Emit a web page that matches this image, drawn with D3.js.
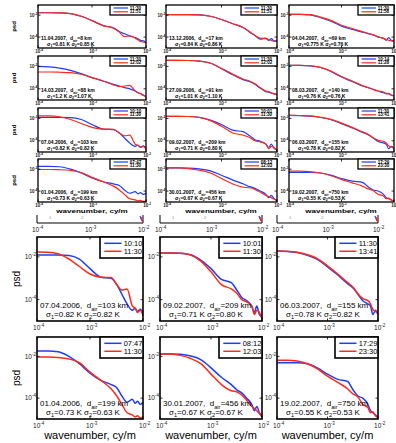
<!DOCTYPE html>
<html>
<head>
<meta charset="utf-8">
<script src="https://cdn.jsdelivr.net/npm/d3@7"></script>
<style>
  body { margin: 0; background: #fff; }
  text { font-family: "Liberation Sans", Arial, sans-serif; }
</style>
</head>
<body>
<svg id="chart" width="396" height="443"></svg>
<script>
// wavenumber grid, cy/m
const wavenumber = [1e-4, 1.6e-4, 2.5e-4, 4e-4, 6.3e-4, 1e-3, 1.6e-3, 2.5e-3, 3.2e-3, 4e-3, 5e-3, 6.3e-3, 7.1e-3, 7.9e-3, 8.9e-3, 1e-2];
const xTicks = [1e-4, 1e-3, 1e-2];
const yTicks = [1e-4, 1e-2];
const xTickExp = ['-4', '-3', '-2'];
const yTickExp = ['-4', '-2'];

// psd values (log10 psd)
const a1104Blue = [-1.78, -1.78, -1.79, -1.85, -2.1, -2.5, -2.95, -3.15, -3.5, -3.7, -3.9, -4.05, -4.15, -4.3, -4.35, -4.5];
const a1104Red  = [-1.78, -1.78, -1.79, -1.85, -2.1, -2.5, -2.95, -3.2, -3.55, -3.95, -3.9, -4.1, -4.25, -4.4, -4.45, -4.55];
const a1312Blue = [-1.95, -1.95, -1.95, -1.97, -2.1, -2.4, -2.78, -3.15, -3.55, -3.85, -4.2, -4.1, -4.3, -4.15, -4.35, -4.3];
const a1312Red  = [-1.95, -1.95, -1.95, -1.97, -2.1, -2.4, -2.78, -3.15, -3.5, -3.85, -4.1, -4.15, -4.2, -4.3, -4.4, -4.4];
const a0404Blue = [-1.92, -1.92, -1.97, -2.22, -2.55, -3.0, -3.3, -3.55, -3.7, -3.8, -4.0, -4.1, -4.3, -4.05, -4.3, -4.35];
const a0404Red  = [-1.92, -1.92, -1.95, -2.18, -2.48, -2.92, -3.22, -3.5, -3.65, -3.8, -3.95, -4.15, -4.2, -4.3, -4.35, -4.4];
const a1403Blue = [-2.0, -2.05, -2.15, -2.35, -2.65, -3.0, -3.3, -3.6, -3.75, -3.9, -4.0, -4.2, -4.35, -4.4, -4.55, -4.7];
const a1403Red  = [-2.5, -2.5, -2.52, -2.56, -2.7, -3.0, -3.3, -3.65, -3.8, -3.75, -3.7, -4.2, -4.35, -4.45, -4.6, -4.7];
const a2709Blue = [-1.46, -1.46, -1.47, -1.52, -1.72, -2.2, -2.75, -3.2, -3.35, -3.6, -3.95, -4.25, -4.3, -4.4, -4.45, -4.5];
const a2709Red  = [-1.46, -1.46, -1.47, -1.52, -1.7, -2.18, -2.7, -3.15, -3.3, -3.55, -3.9, -4.2, -4.25, -4.35, -4.45, -4.55];
const a0803Blue = [-1.9, -1.9, -1.95, -2.1, -2.45, -2.95, -3.35, -3.75, -3.9, -4.05, -4.2, -4.35, -4.4, -4.45, -4.55, -4.6];
const a0803Red  = [-1.9, -1.9, -1.94, -2.08, -2.42, -2.9, -3.3, -3.7, -3.88, -4.05, -4.2, -4.3, -4.45, -4.4, -4.6, -4.65];
const a0704Blue = [-1.91, -1.91, -1.91, -1.93, -2.1, -2.55, -2.95, -3.0, -3.3, -3.75, -4.2, -4.5, -4.4, -4.55, -4.45, -4.6];
const a0704Red  = [-1.77, -1.78, -1.85, -2.1, -2.45, -2.8, -2.95, -2.97, -3.3, -3.55, -3.5, -4.3, -4.4, -4.6, -4.5, -4.75];
const a0902Blue = [-1.82, -1.82, -1.83, -1.9, -2.15, -2.55, -3.05, -3.2, -3.55, -3.9, -4.05, -4.3, -4.6, -4.3, -4.7, -4.8];
const a0902Red  = [-1.82, -1.82, -1.83, -1.92, -2.2, -2.7, -3.3, -3.5, -3.7, -4.0, -4.1, -4.3, -4.7, -4.5, -4.6, -4.9];
const a0603Blue = [-1.73, -1.75, -1.8, -1.92, -2.12, -2.47, -2.85, -3.25, -3.45, -3.75, -4.05, -4.2, -4.3, -4.7, -4.5, -4.7];
const a0603Red  = [-1.72, -1.74, -1.78, -1.9, -2.08, -2.42, -2.8, -3.2, -3.42, -3.72, -3.95, -4.05, -4.2, -4.45, -4.55, -4.65];
const a0104Blue = [-1.74, -1.74, -1.78, -2.0, -2.35, -2.8, -3.15, -3.35, -3.5, -3.9, -4.2, -4.05, -4.25, -4.15, -4.3, -4.2];
const a0104Red  = [-2.03, -2.03, -2.05, -2.12, -2.3, -2.75, -3.15, -3.55, -3.9, -4.3, -4.7, -4.8, -4.9, -4.85, -4.95, -4.9];
const a3001Blue = [-1.88, -1.88, -1.9, -1.98, -2.15, -2.55, -3.0, -3.35, -3.6, -3.75, -4.0, -4.3, -4.6, -4.4, -4.7, -4.85];
const a3001Red  = [-1.88, -1.89, -1.95, -2.1, -2.35, -2.85, -3.35, -3.65, -3.7, -3.85, -4.1, -4.4, -4.5, -4.6, -4.75, -4.9];
const a1902Blue = [-2.3, -2.3, -2.3, -2.35, -2.55, -2.85, -3.1, -3.2, -3.6, -3.9, -4.0, -4.3, -4.6, -4.7, -4.8, -4.95];
const a1902Red  = [-2.18, -2.18, -2.22, -2.35, -2.6, -2.95, -3.25, -3.55, -3.8, -3.95, -4.3, -4.45, -4.7, -4.65, -4.85, -4.95];

const dates   = ['11.04.2007', '13.12.2006', '04.04.2007', '14.03.2007', '27.09.2006', '08.03.2007',
                 '07.04.2006', '09.02.2007', '06.03.2007', '01.04.2006', '30.01.2007', '19.02.2007'];
const dAir    = ['8', '17', '69', '88', '91', '140', '103', '209', '155', '199', '456', '750'];
const sigma1  = ['0.81', '0.84', '0.775', '1.2', '1.01', '0.76', '0.82', '0.71', '0.78', '0.73', '0.67', '0.55'];
const sigma2  = ['0.85', '0.86', '0.76', '1.07', '1.10', '0.76', '0.82', '0.80', '0.82', '0.63', '0.67', '0.53'];
const time1   = ['11:30', '11:30', '11:30', '11:30', '11:30', '10:14', '10:10', '10:01', '11:30', '07:47', '08:12', '17:29'];
const time2   = ['11:51', '11:51', '11:58', '12:02', '12:02', '11:28', '11:30', '11:30', '13:41', '11:30', '12:03', '23:30'];
const blueSeries = [a1104Blue, a1312Blue, a0404Blue, a1403Blue, a2709Blue, a0803Blue, a0704Blue, a0902Blue, a0603Blue, a0104Blue, a3001Blue, a1902Blue];
const redSeries  = [a1104Red, a1312Red, a0404Red, a1403Red, a2709Red, a0803Red, a0704Red, a0902Red, a0603Red, a0104Red, a3001Red, a1902Red];

const BLUE = '#1f3cff', RED = '#ff2a1a';
const svg = d3.select('#chart');

function drawPanel(i, x0, y0, w, h, st) {
  const g = svg.append('g');
  const x = d3.scaleLog().domain([1e-4, 1e-2]).range([x0, x0 + w]);
  const y = d3.scaleLinear().domain([-5, -1.07]).range([y0 + h, y0]);

  const line = d3.line()
    .x((d, j) => x(wavenumber[j]))
    .y(d => y(d))
    .curve(d3.curveMonotoneX);

  g.append('path').datum(blueSeries[i]).attr('d', line)
    .attr('fill', 'none').attr('stroke', BLUE).attr('stroke-width', st.lw);
  g.append('path').datum(redSeries[i]).attr('d', line)
    .attr('fill', 'none').attr('stroke', RED).attr('stroke-width', st.lw);

  // ticks inside the box
  xTicks.forEach(t => {
    g.append('line').attr('x1', x(t)).attr('x2', x(t)).attr('y1', y0 + h).attr('y2', y0 + h - 2.5).attr('stroke', '#000').attr('stroke-width', 0.8);
    g.append('line').attr('x1', x(t)).attr('x2', x(t)).attr('y1', y0).attr('y2', y0 + 2.5).attr('stroke', '#000').attr('stroke-width', 0.8);
  });
  yTicks.forEach(t => {
    const yy = y(Math.log10(t));
    g.append('line').attr('x1', x0).attr('x2', x0 + 2.5).attr('y1', yy).attr('y2', yy).attr('stroke', '#000').attr('stroke-width', 0.8);
    g.append('line').attr('x1', x0 + w).attr('x2', x0 + w - 2.5).attr('y1', yy).attr('y2', yy).attr('stroke', '#000').attr('stroke-width', 0.8);
  });

  g.append('rect').attr('x', x0).attr('y', y0).attr('width', w).attr('height', h)
    .attr('fill', 'none').attr('stroke', '#000').attr('stroke-width', st.box);

  // tick labels
  const fw = st.bold ? 'bold' : 'normal';
  xTicks.forEach((t, j) => {
    const tx = g.append('text').attr('x', x(t) - st.tick * 0.6).attr('y', y0 + h + st.xlab)
      .attr('font-size', st.tick).attr('font-weight', fw).attr('fill', '#222').text('10');
    tx.append('tspan').attr('dy', -st.tick * 0.45).attr('font-size', st.tick * 0.7).text(xTickExp[j]);
  });
  yTicks.forEach((t, j) => {
    const yy = y(Math.log10(t));
    const tx = g.append('text').attr('x', x0 - st.tick * 1.9).attr('y', yy + st.tick * 0.35)
      .attr('font-size', st.tick).attr('font-weight', fw).attr('fill', '#222').text('10');
    tx.append('tspan').attr('dy', -st.tick * 0.45).attr('font-size', st.tick * 0.7).text(yTickExp[j]);
  });

  // legend
  const lw = st.legW, lh = st.legH;
  const lx = x0 + w - lw, ly = y0;
  g.append('rect').attr('x', lx).attr('y', ly).attr('width', lw).attr('height', lh)
    .attr('fill', '#fff').attr('stroke', '#000').attr('stroke-width', st.box);
  [[BLUE, time1[i]], [RED, time2[i]]].forEach(([c, t], j) => {
    const yy = ly + lh * (j === 0 ? 0.3 : 0.68);
    g.append('line').attr('x1', lx + lw * 0.1).attr('x2', lx + lw * 0.5).attr('y1', yy).attr('y2', yy)
      .attr('stroke', c).attr('stroke-width', st.lw);
    g.append('text').attr('x', lx + lw * 0.55).attr('y', yy + st.leg * 0.35)
      .attr('font-size', st.leg).attr('font-weight', fw).text(t);
  });

  // annotation
  const a1 = g.append('text').attr('x', x0 + 3).attr('y', y0 + h - st.ann * 1.6)
    .attr('font-size', st.ann).attr('font-weight', fw).attr('xml:space', 'preserve')
    .text(dates[i] + ',  d');
  a1.append('tspan').attr('dy', st.ann * 0.3).attr('font-size', st.ann * 0.7).text('air');
  a1.append('tspan').attr('dy', -st.ann * 0.3).text('=' + dAir[i] + ' km');
  const a2 = g.append('text').attr('x', x0 + 9).attr('y', y0 + h - st.ann * 0.5)
    .attr('font-size', st.ann).attr('font-weight', fw).text('\u03c3');
  a2.append('tspan').attr('dy', st.ann * 0.3).attr('font-size', st.ann * 0.7).text('1');
  a2.append('tspan').attr('dy', -st.ann * 0.3).text('=' + sigma1[i] + ' K  \u03c3');
  a2.append('tspan').attr('dy', st.ann * 0.3).attr('font-size', st.ann * 0.7).text('2');
  a2.append('tspan').attr('dy', -st.ann * 0.3).text('=' + sigma2[i] + ' K');

  if (st.psd) {
    g.append('text').attr('transform', `translate(${x0 - st.psdOff},${y0 + h / 2}) rotate(-90)`)
      .attr('text-anchor', 'middle').attr('font-size', st.psd).attr('font-weight', fw).text('psd');
  }
}

// top section: compressed copy of the full figure
const topCols = [[38, 108], [166, 111], [289, 105]];
const topRows = [[5, 43], [56, 44], [108, 44], [159, 43]];
const topStyle = { lw: 1.2, box: 1.3, tick: 4.5, xlab: 5, leg: 4.5, ann: 5, legW: 36, legH: 10, bold: true, psd: 6, psdOff: 22 };
topRows.forEach((r, ri) => topCols.forEach((c, ci) => {
  drawPanel(ri * 3 + ci, c[0], r[0], c[1], r[1], Object.assign({}, topStyle, { psd: ci === 0 ? 6 : 0 }));
}));
[92, 221, 341].forEach(cx => {
  svg.append('text').attr('transform', `translate(${cx},213) scale(1.15,0.7)`).attr('text-anchor', 'middle')
    .attr('font-size', 7).attr('font-weight', 'bold').text('wavenumber, cy/m');
});

// strip: bottom of a cut-off row
const botCols = [[37, 106], [160, 102], [277, 101]];
botCols.forEach(([cx, cw]) => {
  svg.append('path').attr('d', `M${cx},215V223H${cx + cw}V215`).attr('fill', 'none').attr('stroke', '#000').attr('stroke-width', 1);
  svg.append('text').attr('x', cx + 12).attr('y', 219).attr('font-size', 4).attr('fill', '#888').text('1');
  svg.append('text').attr('x', cx + 44).attr('y', 219).attr('font-size', 4).attr('fill', '#888').text('2');
  svg.append('line').attr('x1', cx + cw - 3).attr('x2', cx + cw - 1).attr('y1', 216).attr('y2', 221).attr('stroke', BLUE).attr('stroke-width', 1.2);
  svg.append('line').attr('x1', cx + cw - 2).attr('x2', cx + cw).attr('y1', 217).attr('y2', 222).attr('stroke', RED).attr('stroke-width', 1.2);
  const x = d3.scaleLog().domain([1e-4, 1e-2]).range([cx, cx + cw]);
  xTicks.forEach((t, j) => {
    const tx = svg.append('text').attr('x', x(t) - 5).attr('y', 232).attr('font-size', 6.5).attr('fill', '#222').text('10');
    tx.append('tspan').attr('dy', -3).attr('font-size', 4.5).text(xTickExp[j]);
  });
});

// bottom section
const botRows = [[237, 84], [337, 82]];
const botStyle = { lw: 1.5, box: 1.6, tick: 6.5, xlab: 9, leg: 7.5, ann: 8, legW: 43, legH: 21, bold: false, psd: 10, psdOff: 17 };
botRows.forEach((r, ri) => botCols.forEach((c, ci) => {
  drawPanel(6 + ri * 3 + ci, c[0], r[0], c[1], r[1], Object.assign({}, botStyle, { psd: ci === 0 ? 10 : 0 }));
}));
botCols.forEach(([cx, cw]) => {
  svg.append('text').attr('x', cx + cw / 2).attr('y', 439).attr('text-anchor', 'middle')
    .attr('font-size', 11).text('wavenumber, cy/m');
});
</script>
</body>
</html>
